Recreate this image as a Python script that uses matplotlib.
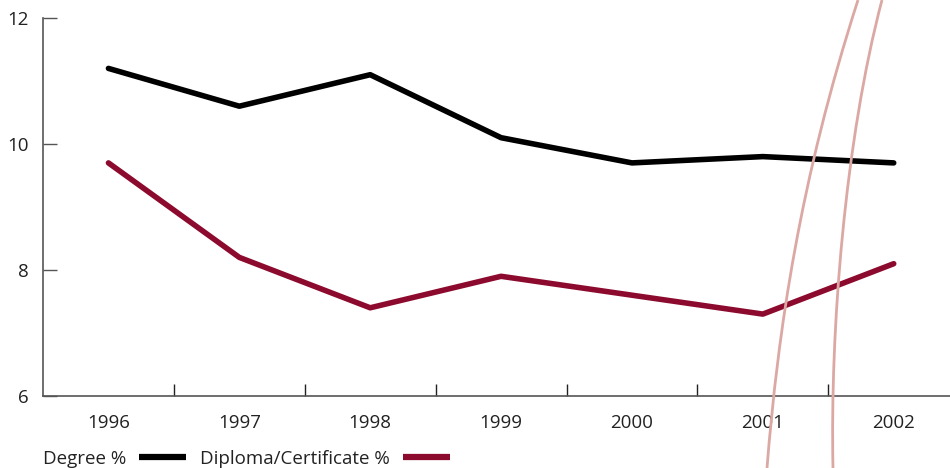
import matplotlib

matplotlib.use("Agg")

import matplotlib.pyplot as plt  # noqa: E402
from matplotlib.lines import Line2D  # noqa: E402
from matplotlib.patches import PathPatch  # noqa: E402
from matplotlib.path import Path  # noqa: E402

years = ["1996", "1997", "1998", "1999", "2000", "2001", "2002"]
degree_pct = [11.2, 10.6, 11.1, 10.1, 9.7, 9.8, 9.7]
diploma_pct = [9.7, 8.2, 7.4, 7.9, 7.6, 7.3, 8.1]
y_ticks = [6, 8, 10, 12]

BLACK = "#000000"
WINE = "#8c0a2e"
AXIS = "#555555"
SWOOSH = "#dba8a4"

plt.rcParams["font.family"] = ["Open Sans", "DejaVu Sans"]
plt.rcParams["font.size"] = 13.5

W, H = 950, 468
fig = plt.figure(figsize=(W / 100, H / 100), dpi=100)
ax = fig.add_axes([43 / W, 72 / H, 1 - 43 / W, 378 / H])

x = list(range(len(years)))
ax.plot(x, degree_pct, color=BLACK, lw=4, solid_capstyle="round", solid_joinstyle="round")
ax.plot(x, diploma_pct, color=WINE, lw=4, solid_capstyle="round", solid_joinstyle="round")

ax.set_xlim(-0.5, 6.43)
ax.set_ylim(6, 12)

for side in ("top", "right"):
    ax.spines[side].set_visible(False)
for side in ("left", "bottom"):
    ax.spines[side].set_color(AXIS)
    ax.spines[side].set_linewidth(1.2)

# boundaries between years carry the tick marks, centres carry the labels
ax.set_xticks([i + 0.5 for i in x[:-1]])
ax.set_xticklabels([])
ax.set_xticks(x, minor=True)
ax.set_xticklabels(years, minor=True)
ax.tick_params(axis="x", which="major", direction="in", length=9, width=1, color="#222222")
ax.tick_params(axis="x", which="minor", length=0, pad=13, labelcolor="#222222")

ax.set_yticks(y_ticks)
ax.tick_params(axis="y", direction="in", length=10, width=1, color=AXIS,
               pad=10, labelcolor="#222222")

# legend: label first, then line sample
handles = [Line2D([], [], color=BLACK, lw=4.5, solid_capstyle="butt"),
           Line2D([], [], color=WINE, lw=4.5, solid_capstyle="butt")]
fig.legend(handles, ["Degree %", "Diploma/Certificate %"], loc="lower left",
           bbox_to_anchor=(26 / W, -0.035), ncol=2, frameon=False,
           markerfirst=False, handlelength=2.5, handletextpad=0.7,
           columnspacing=0.75, labelcolor="#222222")

# decorative swooshes across the right-hand side
for pts in (
    [(767, 468), (778, 330), (800, 180), (858, 0)],
    [(833, 468), (830, 330), (845, 140), (882, 0)],
):
    verts = [(px / W, 1 - py / H) for px, py in pts]
    path = Path(verts, [Path.MOVETO, Path.CURVE4, Path.CURVE4, Path.CURVE4])
    fig.add_artist(PathPatch(path, transform=fig.transFigure, fill=False,
                             edgecolor=SWOOSH, lw=2, zorder=5))

fig.savefig("out.png", dpi=100)
